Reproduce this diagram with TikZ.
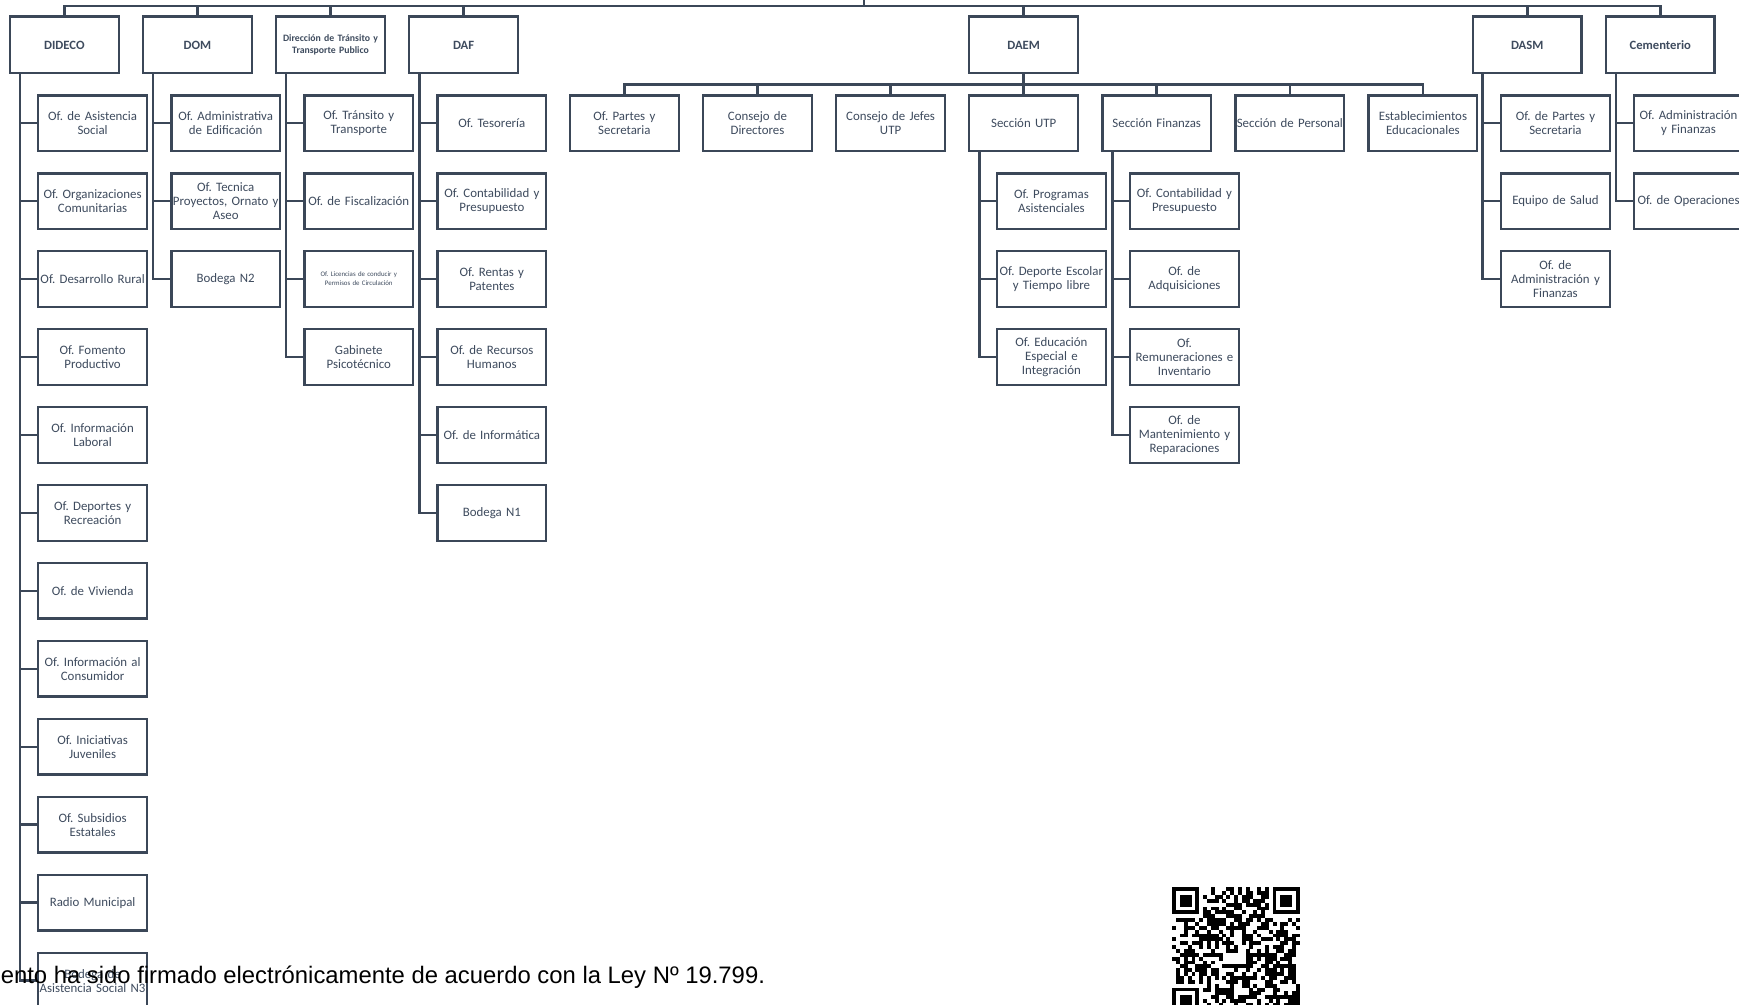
\documentclass[tikz,border=0pt]{standalone}
\usepackage{fontspec}
\setmainfont{Carlito}
\newfontfamily\arialf{Liberation Sans}
\definecolor{lc}{HTML}{3B4758}
\definecolor{tc}{HTML}{3E4B5E}
\frenchspacing
\begin{document}
\begin{tikzpicture}[x=1pt,y=-1pt,
  box/.style={draw=lc, line width=2.1pt, fill=white, minimum width=98pt, minimum height=50pt, inner sep=0pt, text width=97pt, align=center, text=tc, font=\fontsize{11.6}{12.8}\selectfont},
  topbox/.style={box, minimum height=51pt, font=\bfseries\fontsize{11.4}{13}\selectfont},
  conn/.style={draw=lc, line width=2.4pt}]
\useasboundingbox (0,0) rectangle (1568,906);
\clip (0,0) rectangle (1568,906);

% top level
\node[topbox] (dideco) at (58,40.5) {DIDECO};
\node[topbox] (dom) at (178,40.5) {DOM};
\node[topbox, font=\bfseries\fontsize{8.8}{10.8}\selectfont] (dttp) at (298,40.5) {Dirección de Tránsito y\\Transporte Publico};
\node[topbox] (daf) at (418,40.5) {DAF};
\node[topbox] (daem) at (923,40.5) {DAEM};
\node[topbox] (dasm) at (1377,40.5) {DASM};
\node[topbox] (cem) at (1497,40.5) {Cementerio};

\coordinate (root) at (779,0);
\coordinate (bus) at (779,5.5);
\draw[conn] (root) -- (bus);
\foreach \t in {dideco,dom,dttp,daf,daem,dasm,cem}{\draw[conn] (bus) -| (\t.north);}

% DIDECO children
\node[box] (di1) at (83.5,111) {Of. de Asistencia\\Social};
\node[box] (di2) at (83.5,181.3) {Of. Organizaciones\\Comunitarias};
\node[box] (di3) at (83.5,251.6) {Of. Desarrollo Rural};
\node[box] (di4) at (83.5,321.9) {Of. Fomento\\Productivo};
\node[box] (di5) at (83.5,392.2) {Of. Información\\Laboral};
\node[box] (di6) at (83.5,462.5) {Of. Deportes y\\Recreación};
\node[box] (di7) at (83.5,532.8) {Of. de Vivienda};
\node[box] (di8) at (83.5,603.1) {Of. Información al\\Consumidor};
\node[box] (di9) at (83.5,673.4) {Of. Iniciativas\\Juveniles};
\node[box] (di10) at (83.5,743.7) {Of. Subsidios\\Estatales};
\node[box] (di11) at (83.5,814) {Radio Municipal};
\node[box] (di12) at (83.5,884.3) {Bodega de\\Asistencia Social N3};
\foreach \c in {1,...,12}{\draw[conn] ([xshift=10pt]dideco.south west) |- (di\c.west);}

% DOM children
\node[box] (do1) at (203.5,111) {Of. Administrativa\\de Edificación};
\node[box] (do2) at (203.5,181.3) {Of. Tecnica\\Proyectos, Ornato y\\Aseo};
\node[box] (do3) at (203.5,251.6) {Bodega N2};
\foreach \c in {1,...,3}{\draw[conn] ([xshift=10pt]dom.south west) |- (do\c.west);}

% DTTP children
\node[box] (dt1) at (323.5,111) {Of. Tránsito y\\Transporte};
\node[box] (dt2) at (323.5,181.3) {Of. de Fiscalización};
\node[box, font=\fontsize{6.2}{8}\selectfont] (dt3) at (323.5,251.6) {Of. Licencias de conducir y\\Permisos de Circulación};
\node[box] (dt4) at (323.5,321.9) {Gabinete\\Psicotécnico};
\foreach \c in {1,...,4}{\draw[conn] ([xshift=10pt]dttp.south west) |- (dt\c.west);}

% DAF children
\node[box] (da1) at (443.5,111) {Of. Tesorería};
\node[box] (da2) at (443.5,181.3) {Of. Contabilidad y\\Presupuesto};
\node[box] (da3) at (443.5,251.6) {Of. Rentas y\\Patentes};
\node[box] (da4) at (443.5,321.9) {Of. de Recursos\\Humanos};
\node[box] (da5) at (443.5,392.2) {Of. de Informática};
\node[box] (da6) at (443.5,462.5) {Bodega N1};
\foreach \c in {1,...,6}{\draw[conn] ([xshift=10pt]daf.south west) |- (da\c.west);}

% DAEM children
\node[box] (de1) at (563,111) {Of. Partes y\\Secretaria};
\node[box] (de2) at (683,111) {Consejo de\\Directores};
\node[box] (de3) at (803,111) {Consejo de Jefes\\UTP};
\node[box] (utp) at (923,111) {Sección UTP};
\node[box] (fin) at (1043,111) {Sección Finanzas};
\node[box] (de6) at (1163,111) {Sección de Personal};
\node[box] (de7) at (1283,111) {Establecimientos\\Educacionales};
\coordinate (dbus) at (923,76);
\draw[conn] (daem.south) -- (dbus);
\foreach \t in {de1,de2,de3,utp,fin,de6,de7}{\draw[conn] (dbus) -| (\t.north);}

% UTP children
\node[box] (u1) at (948,181.3) {Of. Programas\\Asistenciales};
\node[box] (u2) at (948,251.6) {Of. Deporte Escolar\\y Tiempo libre};
\node[box] (u3) at (948,321.9) {Of. Educación\\Especial e\\Integración};
\foreach \c in {1,...,3}{\draw[conn] ([xshift=10pt]utp.south west) |- (u\c.west);}

% Finanzas children
\node[box] (f1) at (1068,181.3) {Of. Contabilidad y\\Presupuesto};
\node[box] (f2) at (1068,251.6) {Of. de\\Adquisiciones};
\node[box] (f3) at (1068,321.9) {Of.\\Remuneraciones e\\Inventario};
\node[box] (f4) at (1068,392.2) {Of. de\\Mantenimiento y\\Reparaciones};
\foreach \c in {1,...,4}{\draw[conn] ([xshift=10pt]fin.south west) |- (f\c.west);}

% DASM children
\node[box] (s1) at (1402.5,111) {Of. de Partes y\\Secretaria};
\node[box] (s2) at (1402.5,181.3) {Equipo de Salud};
\node[box] (s3) at (1402.5,251.6) {Of. de\\Administración y\\Finanzas};
\foreach \c in {1,...,3}{\draw[conn] ([xshift=10pt]dasm.south west) |- (s\c.west);}

% Cementerio children
\node[box] (c1) at (1522.5,111) {Of. Administración\\y Finanzas};
\node[box] (c2) at (1522.5,181.3) {Of. de Operaciones};
\foreach \c in {1,2}{\draw[conn] ([xshift=10pt]cem.south west) |- (c\c.west);}

% footer text
\node[anchor=base east, inner sep=0pt, font=\arialf\fontsize{21.5}{24}\selectfont] (foot) at (690,887) {ento ha sido firmado electrónicamente de acuerdo con la Ley Nº 19.799.};

% QR code
\begin{scope}[shift={(1057,800)}]
\pgfmathsetseed{12345}
\foreach \i in {0,...,32}{\foreach \j in {0,...,32}{%
  \pgfmathtruncatemacro{\fin}{((\i<8)&&(\j<8))||((\i>24)&&(\j<8))||((\i<8)&&(\j>24))}%
  \pgfmathtruncatemacro{\rr}{rnd<0.5}%
  \ifnum\fin=0 \ifnum\rr=1 \fill (\i*3.48,\j*3.48) rectangle ++(3.52,3.52);\fi\fi
}}
\foreach \a/\b in {0/0,26/0,0/26}{
  \fill (\a*3.48,\b*3.48) rectangle ++(24.36,24.36);
  \fill[white] (\a*3.48+3.48,\b*3.48+3.48) rectangle ++(17.4,17.4);
  \fill (\a*3.48+6.96,\b*3.48+6.96) rectangle ++(10.44,10.44);
}
\end{scope}
\end{tikzpicture}
\end{document}
